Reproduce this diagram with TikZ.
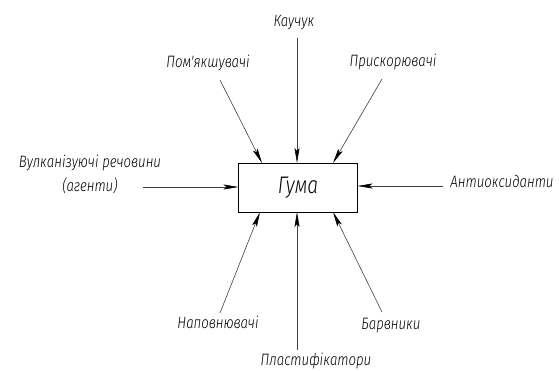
\documentclass[tikz,border=0pt]{standalone}
\usepackage{fontspec}
\newfontfamily\gost{Fira Sans}[UprightFont=* Light Italic, FakeStretch=0.8]
\usetikzlibrary{arrows.meta}
\begin{document}
\begin{tikzpicture}[x=1pt,y=-1pt,
  lbl/.style={font=\gost\fontsize{16.5}{24}\selectfont, inner sep=0pt, text=black},
  feed/.style={draw=black!75, line width=0.6pt, -{Stealth[length=15pt,width=5pt,inset=3pt,black]}},
  mainbox/.style={draw=black, line width=0.8pt, minimum width=119pt, minimum height=49pt, inner sep=0pt, font=\gost\fontsize{24}{28}\selectfont}]
\useasboundingbox (0,0) rectangle (559,370);
\node[mainbox] (box) at (298,187.5) {Гума};
% labels
\node[lbl] (kauchuk) at (294,22) {Каучук};
\node[lbl] (pom) at (208,63) {Пом'якшувачі};
\node[lbl] (prysk) at (393,62) {Прискорювачі};
\node[lbl, align=center] (vulk) at (90,174) {Вулканізуючі речовини\\(агенти)};
\node[lbl] (anti) at (502,181) {Антиоксиданти};
\node[lbl] (napov) at (218,322) {Наповнювачі};
\node[lbl] (plast) at (316,361) {Пластифікатори};
\node[lbl] (barv) at (391,326) {Барвники};
% connector ends
\coordinate (kauchukS) at (297,38);
\coordinate (pomS) at (220,80);
\coordinate (pryskS) at (382,79);
\coordinate (vulkS) at (143,187);
\coordinate (antiS) at (443,186);
\coordinate (napovS) at (220,313);
\coordinate (plastS) at (297,350);
\coordinate (barvS) at (382,312);
\coordinate (bN) at (297,163);
\coordinate (bNW) at (262,163);
\coordinate (bNE) at (333,163);
\coordinate (bW) at (238.5,187);
\coordinate (bE) at (357.5,186);
\coordinate (bSW) at (260,212);
\coordinate (bS) at (297,212);
\coordinate (bSE) at (333,212);
\draw[feed] (kauchukS) -- (bN);
\draw[feed] (pomS) -- (bNW);
\draw[feed] (pryskS) -- (bNE);
\draw[feed] (vulkS) -- (bW);
\draw[feed] (antiS) -- (bE);
\draw[feed] (napovS) -- (bSW);
\draw[feed] (plastS) -- (bS);
\draw[feed] (barvS) -- (bSE);
\end{tikzpicture}
\end{document}
